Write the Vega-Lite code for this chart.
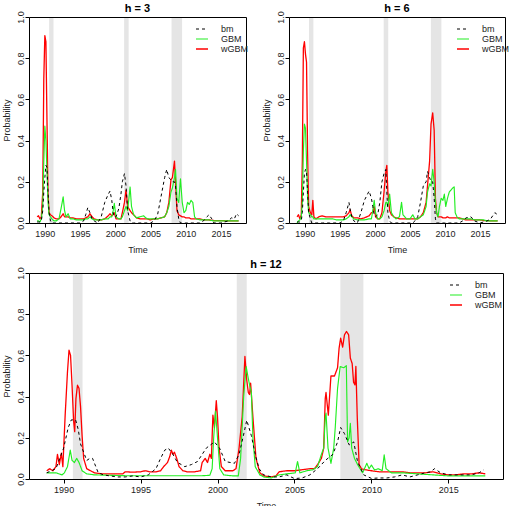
{
"$schema": "https://vega.github.io/schema/vega-lite/v6.json",
"padding": {"left": 1, "top": 2, "right": 0, "bottom": 0},
"config": {
  "font": "Liberation Sans",
  "view": {"stroke": "black", "strokeWidth": 1},
  "axis": {"grid": false, "domain": false, "tickColor": "black", "tickSize": 4, "labelFontSize": 9, "labelColor": "#222", "titleFontSize": 9, "titleFontWeight": "normal", "titleColor": "#222", "labelPadding": 2},
  "title": {"fontSize": 11, "fontWeight": "bold", "offset": -3, "color": "#000", "frame": "group"},
  "legend": {"orient": "none", "symbolType": "stroke", "labelFontSize": 9, "labelColor": "#222", "symbolSize": 144, "clipHeight": 10, "rowPadding": -0.5, "labelOffset": 12, "padding": 0, "titlePadding": 0}
},
"datasets": {
  "rec": [{"s": 1990.6, "e": 1991.23}, {"s": 2001.25, "e": 2001.9}, {"s": 2007.98, "e": 2009.48}],
  "h3": [
    {"t":1988.9,"bm":0.005,"GBM":0.01,"wGBM":0.03},
    {"t":1989.1,"bm":0.005,"GBM":0.01,"wGBM":0.035},
    {"t":1989.3,"bm":0.005,"GBM":0.005,"wGBM":0.02},
    {"t":1989.5,"bm":0.01,"GBM":0.02,"wGBM":0.03},
    {"t":1989.7,"bm":0.06,"GBM":0.08,"wGBM":0.15},
    {"t":1989.85,"bm":0.15,"GBM":0.3,"wGBM":0.7},
    {"t":1990.0,"bm":0.22,"GBM":0.47,"wGBM":0.91},
    {"t":1990.15,"bm":0.28,"GBM":0.4,"wGBM":0.88},
    {"t":1990.3,"bm":0.27,"GBM":0.25,"wGBM":0.5},
    {"t":1990.45,"bm":0.15,"GBM":0.1,"wGBM":0.15},
    {"t":1990.6,"bm":0.05,"GBM":0.04,"wGBM":0.05},
    {"t":1990.8,"bm":0.01,"GBM":0.03,"wGBM":0.04},
    {"t":1991.0,"bm":0,"GBM":0.02,"wGBM":0.035},
    {"t":1991.3,"bm":0,"GBM":0.01,"wGBM":0.025},
    {"t":1991.6,"bm":0,"GBM":0.01,"wGBM":0.02},
    {"t":1992.0,"bm":0,"GBM":0.02,"wGBM":0.02},
    {"t":1992.3,"bm":0,"GBM":0.07,"wGBM":0.03},
    {"t":1992.6,"bm":0,"GBM":0.127,"wGBM":0.045},
    {"t":1992.8,"bm":0,"GBM":0.06,"wGBM":0.03},
    {"t":1993.0,"bm":0,"GBM":0.03,"wGBM":0.03},
    {"t":1993.3,"bm":0,"GBM":0.045,"wGBM":0.03},
    {"t":1993.6,"bm":0,"GBM":0.02,"wGBM":0.025},
    {"t":1994.0,"bm":0,"GBM":0.02,"wGBM":0.025},
    {"t":1994.5,"bm":0,"GBM":0.015,"wGBM":0.02},
    {"t":1995.0,"bm":0,"GBM":0.015,"wGBM":0.02},
    {"t":1995.5,"bm":0.01,"GBM":0.015,"wGBM":0.02},
    {"t":1995.8,"bm":0.04,"GBM":0.02,"wGBM":0.025},
    {"t":1996.1,"bm":0.075,"GBM":0.02,"wGBM":0.03},
    {"t":1996.4,"bm":0.05,"GBM":0.03,"wGBM":0.045},
    {"t":1996.7,"bm":0.02,"GBM":0.02,"wGBM":0.03},
    {"t":1997.0,"bm":0.01,"GBM":0.015,"wGBM":0.02},
    {"t":1997.5,"bm":0,"GBM":0.015,"wGBM":0.015},
    {"t":1998.0,"bm":0.03,"GBM":0.015,"wGBM":0.015},
    {"t":1998.5,"bm":0.1,"GBM":0.02,"wGBM":0.02},
    {"t":1999.0,"bm":0.14,"GBM":0.02,"wGBM":0.035},
    {"t":1999.25,"bm":0.155,"GBM":0.03,"wGBM":0.045},
    {"t":1999.5,"bm":0.11,"GBM":0.03,"wGBM":0.035},
    {"t":1999.7,"bm":0.05,"GBM":0.06,"wGBM":0.04},
    {"t":1999.86,"bm":0.03,"GBM":0.095,"wGBM":0.05},
    {"t":2000.1,"bm":0.03,"GBM":0.03,"wGBM":0.02},
    {"t":2000.5,"bm":0.07,"GBM":0.02,"wGBM":0.02},
    {"t":2000.8,"bm":0.14,"GBM":0.02,"wGBM":0.02},
    {"t":2001.0,"bm":0.2,"GBM":0.03,"wGBM":0.05},
    {"t":2001.3,"bm":0.24,"GBM":0.06,"wGBM":0.1},
    {"t":2001.52,"bm":0.18,"GBM":0.08,"wGBM":0.16},
    {"t":2001.75,"bm":0.06,"GBM":0.06,"wGBM":0.08},
    {"t":2002.1,"bm":0.01,"GBM":0.175,"wGBM":0.06},
    {"t":2002.3,"bm":0,"GBM":0.08,"wGBM":0.05},
    {"t":2002.6,"bm":0,"GBM":0.04,"wGBM":0.04},
    {"t":2003.0,"bm":0,"GBM":0.025,"wGBM":0.025},
    {"t":2003.5,"bm":0,"GBM":0.03,"wGBM":0.02},
    {"t":2004.0,"bm":0,"GBM":0.035,"wGBM":0.02},
    {"t":2004.5,"bm":0,"GBM":0.02,"wGBM":0.02},
    {"t":2005.0,"bm":0,"GBM":0.02,"wGBM":0.015},
    {"t":2005.5,"bm":0.01,"GBM":0.02,"wGBM":0.02},
    {"t":2006.0,"bm":0.04,"GBM":0.02,"wGBM":0.02},
    {"t":2006.5,"bm":0.13,"GBM":0.025,"wGBM":0.025},
    {"t":2007.0,"bm":0.22,"GBM":0.03,"wGBM":0.03},
    {"t":2007.3,"bm":0.26,"GBM":0.05,"wGBM":0.05},
    {"t":2007.6,"bm":0.22,"GBM":0.08,"wGBM":0.1},
    {"t":2007.9,"bm":0.21,"GBM":0.15,"wGBM":0.21},
    {"t":2008.1,"bm":0.2,"GBM":0.17,"wGBM":0.22},
    {"t":2008.4,"bm":0.2,"GBM":0.22,"wGBM":0.3},
    {"t":2008.55,"bm":0.18,"GBM":0.26,"wGBM":0.2},
    {"t":2008.75,"bm":0.08,"GBM":0.12,"wGBM":0.06},
    {"t":2009.0,"bm":0.02,"GBM":0.1,"wGBM":0.04},
    {"t":2009.25,"bm":0,"GBM":0.215,"wGBM":0.035},
    {"t":2009.5,"bm":0,"GBM":0.1,"wGBM":0.03},
    {"t":2009.75,"bm":0,"GBM":0.05,"wGBM":0.03},
    {"t":2010.0,"bm":0,"GBM":0.06,"wGBM":0.025},
    {"t":2010.25,"bm":0,"GBM":0.1,"wGBM":0.025},
    {"t":2010.5,"bm":0,"GBM":0.09,"wGBM":0.025},
    {"t":2010.75,"bm":0,"GBM":0.11,"wGBM":0.02},
    {"t":2011.0,"bm":0,"GBM":0.1,"wGBM":0.02},
    {"t":2011.25,"bm":0,"GBM":0.03,"wGBM":0.02},
    {"t":2011.5,"bm":0,"GBM":0.02,"wGBM":0.02},
    {"t":2012.0,"bm":0,"GBM":0.015,"wGBM":0.02},
    {"t":2012.5,"bm":0.01,"GBM":0.015,"wGBM":0.015},
    {"t":2013.0,"bm":0.03,"GBM":0.015,"wGBM":0.015},
    {"t":2013.3,"bm":0.04,"GBM":0.015,"wGBM":0.015},
    {"t":2013.7,"bm":0.02,"GBM":0.012,"wGBM":0.013},
    {"t":2014.0,"bm":0,"GBM":0.01,"wGBM":0.012},
    {"t":2015.0,"bm":0,"GBM":0.01,"wGBM":0.012},
    {"t":2016.0,"bm":0.01,"GBM":0.01,"wGBM":0.01},
    {"t":2016.5,"bm":0.025,"GBM":0.01,"wGBM":0.01},
    {"t":2016.9,"bm":0.02,"GBM":0.01,"wGBM":0.01},
    {"t":2017.2,"bm":0.045,"GBM":0.01,"wGBM":0.01},
    {"t":2017.5,"bm":0.035,"GBM":0.01,"wGBM":0.01}
  ],
  "h6": [
    {"t":1988.9,"bm":0.005,"GBM":0.0,"wGBM":0.03},
    {"t":1989.1,"bm":0.005,"GBM":0.01,"wGBM":0.04},
    {"t":1989.3,"bm":0.005,"GBM":0.015,"wGBM":0.02},
    {"t":1989.5,"bm":0.01,"GBM":0.03,"wGBM":0.04},
    {"t":1989.65,"bm":0.05,"GBM":0.1,"wGBM":0.3},
    {"t":1989.8,"bm":0.15,"GBM":0.35,"wGBM":0.85},
    {"t":1989.95,"bm":0.24,"GBM":0.48,"wGBM":0.88},
    {"t":1990.1,"bm":0.26,"GBM":0.46,"wGBM":0.82},
    {"t":1990.25,"bm":0.25,"GBM":0.3,"wGBM":0.78},
    {"t":1990.4,"bm":0.15,"GBM":0.12,"wGBM":0.35},
    {"t":1990.55,"bm":0.05,"GBM":0.05,"wGBM":0.08},
    {"t":1990.8,"bm":0.02,"GBM":0.04,"wGBM":0.05},
    {"t":1991.0,"bm":0,"GBM":0.03,"wGBM":0.04},
    {"t":1991.15,"bm":0,"GBM":0.03,"wGBM":0.11},
    {"t":1991.3,"bm":0,"GBM":0.02,"wGBM":0.03},
    {"t":1991.6,"bm":0,"GBM":0.02,"wGBM":0.02},
    {"t":1992.0,"bm":0,"GBM":0.02,"wGBM":0.03},
    {"t":1992.5,"bm":0,"GBM":0.02,"wGBM":0.035},
    {"t":1993.0,"bm":0,"GBM":0.02,"wGBM":0.03},
    {"t":1993.5,"bm":0,"GBM":0.02,"wGBM":0.03},
    {"t":1994.0,"bm":0,"GBM":0.02,"wGBM":0.03},
    {"t":1994.5,"bm":0,"GBM":0.015,"wGBM":0.03},
    {"t":1995.0,"bm":0,"GBM":0.015,"wGBM":0.03},
    {"t":1995.5,"bm":0.01,"GBM":0.015,"wGBM":0.03},
    {"t":1995.9,"bm":0.05,"GBM":0.02,"wGBM":0.035},
    {"t":1996.3,"bm":0.1,"GBM":0.03,"wGBM":0.05},
    {"t":1996.45,"bm":0.07,"GBM":0.04,"wGBM":0.065},
    {"t":1996.7,"bm":0.03,"GBM":0.03,"wGBM":0.035},
    {"t":1997.0,"bm":0.01,"GBM":0.02,"wGBM":0.025},
    {"t":1997.5,"bm":0,"GBM":0.015,"wGBM":0.025},
    {"t":1998.0,"bm":0.05,"GBM":0.015,"wGBM":0.02},
    {"t":1998.5,"bm":0.11,"GBM":0.015,"wGBM":0.025},
    {"t":1999.17,"bm":0.155,"GBM":0.02,"wGBM":0.035},
    {"t":1999.5,"bm":0.12,"GBM":0.02,"wGBM":0.05},
    {"t":1999.7,"bm":0.08,"GBM":0.06,"wGBM":0.05},
    {"t":1999.9,"bm":0.04,"GBM":0.11,"wGBM":0.08},
    {"t":2000.1,"bm":0.03,"GBM":0.05,"wGBM":0.03},
    {"t":2000.4,"bm":0.04,"GBM":0.02,"wGBM":0.02},
    {"t":2000.7,"bm":0.1,"GBM":0.02,"wGBM":0.02},
    {"t":2001.0,"bm":0.2,"GBM":0.03,"wGBM":0.05},
    {"t":2001.3,"bm":0.24,"GBM":0.06,"wGBM":0.15},
    {"t":2001.56,"bm":0.26,"GBM":0.1,"wGBM":0.25},
    {"t":2001.7,"bm":0.15,"GBM":0.1,"wGBM":0.28},
    {"t":2001.85,"bm":0.05,"GBM":0.08,"wGBM":0.15},
    {"t":2002.1,"bm":0.01,"GBM":0.14,"wGBM":0.06},
    {"t":2002.35,"bm":0,"GBM":0.05,"wGBM":0.04},
    {"t":2002.7,"bm":0,"GBM":0.03,"wGBM":0.03},
    {"t":2003.0,"bm":0,"GBM":0.02,"wGBM":0.025},
    {"t":2003.5,"bm":0,"GBM":0.03,"wGBM":0.02},
    {"t":2003.8,"bm":0,"GBM":0.1,"wGBM":0.02},
    {"t":2004.0,"bm":0,"GBM":0.04,"wGBM":0.02},
    {"t":2004.5,"bm":0,"GBM":0.02,"wGBM":0.02},
    {"t":2005.0,"bm":0,"GBM":0.02,"wGBM":0.02},
    {"t":2005.4,"bm":0,"GBM":0.04,"wGBM":0.02},
    {"t":2005.7,"bm":0.01,"GBM":0.02,"wGBM":0.02},
    {"t":2006.1,"bm":0.03,"GBM":0.02,"wGBM":0.02},
    {"t":2006.5,"bm":0.1,"GBM":0.03,"wGBM":0.03},
    {"t":2006.9,"bm":0.18,"GBM":0.04,"wGBM":0.05},
    {"t":2007.3,"bm":0.2,"GBM":0.08,"wGBM":0.1},
    {"t":2007.5,"bm":0.25,"GBM":0.15,"wGBM":0.18},
    {"t":2007.8,"bm":0.22,"GBM":0.19,"wGBM":0.3},
    {"t":2008.0,"bm":0.2,"GBM":0.18,"wGBM":0.48},
    {"t":2008.24,"bm":0.2,"GBM":0.26,"wGBM":0.535},
    {"t":2008.45,"bm":0.12,"GBM":0.2,"wGBM":0.45},
    {"t":2008.63,"bm":0.02,"GBM":0.1,"wGBM":0.12},
    {"t":2008.8,"bm":0,"GBM":0.05,"wGBM":0.05},
    {"t":2009.0,"bm":0,"GBM":0.03,"wGBM":0.03},
    {"t":2009.2,"bm":0,"GBM":0.08,"wGBM":0.03},
    {"t":2009.45,"bm":0,"GBM":0.12,"wGBM":0.03},
    {"t":2009.7,"bm":0,"GBM":0.11,"wGBM":0.025},
    {"t":2009.9,"bm":0,"GBM":0.14,"wGBM":0.025},
    {"t":2010.1,"bm":0,"GBM":0.08,"wGBM":0.025},
    {"t":2010.35,"bm":0,"GBM":0.12,"wGBM":0.03},
    {"t":2010.6,"bm":0,"GBM":0.15,"wGBM":0.025},
    {"t":2010.85,"bm":0,"GBM":0.16,"wGBM":0.025},
    {"t":2011.1,"bm":0,"GBM":0.17,"wGBM":0.025},
    {"t":2011.3,"bm":0,"GBM":0.175,"wGBM":0.025},
    {"t":2011.45,"bm":0,"GBM":0.05,"wGBM":0.025},
    {"t":2011.7,"bm":0,"GBM":0.03,"wGBM":0.025},
    {"t":2012.0,"bm":0,"GBM":0.02,"wGBM":0.025},
    {"t":2012.5,"bm":0.01,"GBM":0.02,"wGBM":0.02},
    {"t":2013.0,"bm":0.025,"GBM":0.02,"wGBM":0.015},
    {"t":2013.7,"bm":0.03,"GBM":0.02,"wGBM":0.015},
    {"t":2014.2,"bm":0.01,"GBM":0.015,"wGBM":0.015},
    {"t":2015.0,"bm":0,"GBM":0.015,"wGBM":0.015},
    {"t":2015.5,"bm":0.005,"GBM":0.015,"wGBM":0.012},
    {"t":2016.0,"bm":0.01,"GBM":0.01,"wGBM":0.012},
    {"t":2016.5,"bm":0.02,"GBM":0.01,"wGBM":0.01},
    {"t":2017.1,"bm":0.05,"GBM":0.01,"wGBM":0.01},
    {"t":2017.5,"bm":0.04,"GBM":0.01,"wGBM":0.01}
  ],
  "h12": [
    {"t":1988.9,"wGBM":0.04},{"t":1989.1,"wGBM":0.05},{"t":1989.3,"wGBM":0.04},{"t":1989.5,"wGBM":0.06},{"t":1989.6,"wGBM":0.12},{"t":1989.72,"wGBM":0.07},{"t":1989.85,"wGBM":0.125},{"t":1989.95,"wGBM":0.06},{"t":1990.1,"wGBM":0.31},{"t":1990.25,"wGBM":0.52},{"t":1990.35,"wGBM":0.625},{"t":1990.45,"wGBM":0.6},{"t":1990.55,"wGBM":0.45},{"t":1990.65,"wGBM":0.28},{"t":1990.72,"wGBM":0.23},{"t":1990.8,"wGBM":0.39},{"t":1990.9,"wGBM":0.455},{"t":1991.0,"wGBM":0.44},{"t":1991.1,"wGBM":0.35},{"t":1991.2,"wGBM":0.21},{"t":1991.3,"wGBM":0.1},{"t":1991.5,"wGBM":0.05},{"t":1991.75,"wGBM":0.04},{"t":1992.0,"wGBM":0.03},{"t":1992.5,"wGBM":0.025},{"t":1993.0,"wGBM":0.025},{"t":1993.5,"wGBM":0.025},{"t":1993.85,"wGBM":0.025},{"t":1994.0,"wGBM":0.035},{"t":1994.5,"wGBM":0.033},{"t":1995.0,"wGBM":0.035},{"t":1995.3,"wGBM":0.04},{"t":1995.6,"wGBM":0.035},{"t":1996.0,"wGBM":0.035},{"t":1996.3,"wGBM":0.04},{"t":1996.5,"wGBM":0.06},{"t":1996.75,"wGBM":0.08},{"t":1996.9,"wGBM":0.11},{"t":1997.0,"wGBM":0.14},{"t":1997.1,"wGBM":0.12},{"t":1997.2,"wGBM":0.13},{"t":1997.35,"wGBM":0.1},{"t":1997.5,"wGBM":0.06},{"t":1997.75,"wGBM":0.04},{"t":1998.0,"wGBM":0.035},{"t":1998.5,"wGBM":0.035},{"t":1998.9,"wGBM":0.04},{"t":1999.0,"wGBM":0.08},{"t":1999.2,"wGBM":0.1},{"t":1999.35,"wGBM":0.08},{"t":1999.5,"wGBM":0.12},{"t":1999.6,"wGBM":0.1},{"t":1999.7,"wGBM":0.31},{"t":1999.8,"wGBM":0.25},{"t":1999.92,"wGBM":0.38},{"t":2000.0,"wGBM":0.3},{"t":2000.1,"wGBM":0.15},{"t":2000.25,"wGBM":0.06},{"t":2000.5,"wGBM":0.04},{"t":2001.0,"wGBM":0.04},{"t":2001.2,"wGBM":0.05},{"t":2001.4,"wGBM":0.15},{"t":2001.6,"wGBM":0.3},{"t":2001.78,"wGBM":0.595},{"t":2001.9,"wGBM":0.48},{"t":2002.0,"wGBM":0.42},{"t":2002.08,"wGBM":0.41},{"t":2002.15,"wGBM":0.465},{"t":2002.3,"wGBM":0.3},{"t":2002.5,"wGBM":0.1},{"t":2002.75,"wGBM":0.03},{"t":2003.0,"wGBM":0.015},{"t":2003.5,"wGBM":0.01},{"t":2003.8,"wGBM":0.015},{"t":2004.0,"wGBM":0.035},{"t":2004.5,"wGBM":0.04},{"t":2005.0,"wGBM":0.04},{"t":2005.5,"wGBM":0.045},{"t":2006.0,"wGBM":0.05},{"t":2006.3,"wGBM":0.05},{"t":2006.5,"wGBM":0.07},{"t":2006.75,"wGBM":0.1},{"t":2006.9,"wGBM":0.15},{"t":2007.0,"wGBM":0.39},{"t":2007.05,"wGBM":0.42},{"t":2007.2,"wGBM":0.31},{"t":2007.37,"wGBM":0.5},{"t":2007.6,"wGBM":0.5},{"t":2007.8,"wGBM":0.54},{"t":2007.9,"wGBM":0.635},{"t":2008.0,"wGBM":0.684},{"t":2008.13,"wGBM":0.64},{"t":2008.25,"wGBM":0.7},{"t":2008.38,"wGBM":0.716},{"t":2008.52,"wGBM":0.7},{"t":2008.63,"wGBM":0.587},{"t":2008.75,"wGBM":0.56},{"t":2008.84,"wGBM":0.47},{"t":2008.93,"wGBM":0.457},{"t":2008.99,"wGBM":0.546},{"t":2009.08,"wGBM":0.3},{"t":2009.2,"wGBM":0.07},{"t":2009.35,"wGBM":0.05},{"t":2009.6,"wGBM":0.045},{"t":2010.0,"wGBM":0.04},{"t":2010.5,"wGBM":0.035},{"t":2011.0,"wGBM":0.035},{"t":2011.5,"wGBM":0.035},{"t":2012.0,"wGBM":0.035},{"t":2012.5,"wGBM":0.03},{"t":2013.0,"wGBM":0.03},{"t":2013.5,"wGBM":0.03},{"t":2014.0,"wGBM":0.035},{"t":2014.5,"wGBM":0.025},{"t":2015.0,"wGBM":0.02},{"t":2015.5,"wGBM":0.02},{"t":2016.0,"wGBM":0.025},{"t":2016.5,"wGBM":0.025},{"t":2017.0,"wGBM":0.03},{"t":2017.4,"wGBM":0.025},
    {"t":1988.9,"GBM":0.03},{"t":1989.5,"GBM":0.03},{"t":1989.9,"GBM":0.02},{"t":1990.05,"GBM":0.03},{"t":1990.25,"GBM":0.06},{"t":1990.43,"GBM":0.14},{"t":1990.55,"GBM":0.09},{"t":1990.7,"GBM":0.08},{"t":1990.85,"GBM":0.1},{"t":1991.0,"GBM":0.08},{"t":1991.2,"GBM":0.04},{"t":1991.5,"GBM":0.025},{"t":1992.0,"GBM":0.02},{"t":1993.0,"GBM":0.018},{"t":1994.0,"GBM":0.016},{"t":1995.0,"GBM":0.016},{"t":1996.0,"GBM":0.016},{"t":1997.0,"GBM":0.016},{"t":1998.0,"GBM":0.016},{"t":1999.0,"GBM":0.016},{"t":1999.5,"GBM":0.018},{"t":1999.65,"GBM":0.05},{"t":1999.75,"GBM":0.2},{"t":1999.87,"GBM":0.33},{"t":2000.0,"GBM":0.2},{"t":2000.15,"GBM":0.05},{"t":2000.4,"GBM":0.02},{"t":2001.0,"GBM":0.015},{"t":2001.35,"GBM":0.015},{"t":2001.5,"GBM":0.1},{"t":2001.7,"GBM":0.4},{"t":2001.86,"GBM":0.546},{"t":2001.97,"GBM":0.5},{"t":2002.1,"GBM":0.45},{"t":2002.2,"GBM":0.42},{"t":2002.3,"GBM":0.2},{"t":2002.45,"GBM":0.06},{"t":2002.75,"GBM":0.02},{"t":2003.0,"GBM":0.01},{"t":2003.5,"GBM":0.005},{"t":2004.0,"GBM":0.02},{"t":2004.5,"GBM":0.025},{"t":2005.05,"GBM":0.03},{"t":2005.2,"GBM":0.085},{"t":2005.35,"GBM":0.03},{"t":2005.8,"GBM":0.04},{"t":2006.2,"GBM":0.045},{"t":2006.5,"GBM":0.06},{"t":2006.75,"GBM":0.12},{"t":2006.9,"GBM":0.15},{"t":2007.0,"GBM":0.3},{"t":2007.05,"GBM":0.32},{"t":2007.18,"GBM":0.15},{"t":2007.37,"GBM":0.076},{"t":2007.55,"GBM":0.15},{"t":2007.65,"GBM":0.25},{"t":2007.8,"GBM":0.44},{"t":2007.97,"GBM":0.546},{"t":2008.2,"GBM":0.54},{"t":2008.37,"GBM":0.55},{"t":2008.45,"GBM":0.18},{"t":2008.55,"GBM":0.2},{"t":2008.63,"GBM":0.27},{"t":2008.72,"GBM":0.15},{"t":2008.9,"GBM":0.1},{"t":2009.1,"GBM":0.07},{"t":2009.43,"GBM":0.03},{"t":2009.7,"GBM":0.076},{"t":2009.85,"GBM":0.05},{"t":2010.0,"GBM":0.068},{"t":2010.2,"GBM":0.044},{"t":2010.45,"GBM":0.05},{"t":2010.7,"GBM":0.04},{"t":2010.83,"GBM":0.117},{"t":2010.95,"GBM":0.05},{"t":2011.3,"GBM":0.03},{"t":2012.0,"GBM":0.03},{"t":2013.0,"GBM":0.025},{"t":2014.0,"GBM":0.02},{"t":2015.0,"GBM":0.015},{"t":2016.0,"GBM":0.015},{"t":2017.4,"GBM":0.015},
    {"t":1988.9,"bm":0.03},{"t":1989.5,"bm":0.05},{"t":1990.0,"bm":0.15},{"t":1990.3,"bm":0.25},{"t":1990.5,"bm":0.287},{"t":1990.78,"bm":0.287},{"t":1990.95,"bm":0.24},{"t":1991.1,"bm":0.17},{"t":1991.3,"bm":0.13},{"t":1991.5,"bm":0.09},{"t":1991.7,"bm":0.1},{"t":1991.88,"bm":0.1},{"t":1992.25,"bm":0.03},{"t":1992.6,"bm":0.02},{"t":1993.0,"bm":0.015},{"t":1993.5,"bm":0.01},{"t":1994.0,"bm":0.01},{"t":1994.5,"bm":0.015},{"t":1995.0,"bm":0.01},{"t":1995.5,"bm":0.02},{"t":1996.0,"bm":0.05},{"t":1996.3,"bm":0.1},{"t":1996.57,"bm":0.14},{"t":1996.8,"bm":0.15},{"t":1997.1,"bm":0.12},{"t":1997.4,"bm":0.08},{"t":1997.65,"bm":0.07},{"t":1997.87,"bm":0.06},{"t":1998.3,"bm":0.07},{"t":1998.7,"bm":0.085},{"t":1999.27,"bm":0.15},{"t":1999.8,"bm":0.18},{"t":2000.13,"bm":0.15},{"t":2000.5,"bm":0.085},{"t":2001.1,"bm":0.076},{"t":2001.4,"bm":0.12},{"t":2001.65,"bm":0.2},{"t":2001.9,"bm":0.285},{"t":2002.2,"bm":0.21},{"t":2002.45,"bm":0.12},{"t":2002.7,"bm":0.05},{"t":2003.0,"bm":0.02},{"t":2003.5,"bm":0.01},{"t":2004.0,"bm":0.01},{"t":2004.5,"bm":0.02},{"t":2005.0,"bm":0.002},{"t":2005.5,"bm":0.005},{"t":2006.0,"bm":0.02},{"t":2006.5,"bm":0.05},{"t":2007.0,"bm":0.09},{"t":2007.5,"bm":0.12},{"t":2007.8,"bm":0.18},{"t":2008.0,"bm":0.25},{"t":2008.25,"bm":0.22},{"t":2008.56,"bm":0.165},{"t":2008.85,"bm":0.18},{"t":2009.1,"bm":0.084},{"t":2009.5,"bm":0.02},{"t":2010.0,"bm":0.003},{"t":2010.5,"bm":0.005},{"t":2011.0,"bm":0.005},{"t":2011.5,"bm":0.01},{"t":2012.0,"bm":0.02},{"t":2012.5,"bm":0.01},{"t":2013.0,"bm":0.02},{"t":2013.5,"bm":0.03},{"t":2013.85,"bm":0.035},{"t":2014.1,"bm":0.05},{"t":2014.5,"bm":0.03},{"t":2015.0,"bm":0.02},{"t":2015.5,"bm":0.02},{"t":2016.0,"bm":0.02},{"t":2016.5,"bm":0.02},{"t":2017.0,"bm":0.03},{"t":2017.3,"bm":0.045}
  ]
},
"resolve": {"scale": {"color": "independent", "strokeDash": "independent", "strokeWidth": "independent"}, "legend": {"color": "independent", "strokeDash": "independent", "strokeWidth": "independent"}},
"spacing": 3,
"vconcat": [
  {
    "spacing": 12,
    "resolve": {"scale": {"color": "independent", "strokeDash": "independent", "strokeWidth": "independent"}, "legend": {"color": "independent", "strokeDash": "independent", "strokeWidth": "independent"}},
    "hconcat": [
      {
        "title": "h = 3", "width": 217, "height": 206,
        "layer": [
          {"data": {"name": "rec"}, "mark": {"type": "rect", "color": "#000000", "opacity": 0.1},
           "encoding": {"x": {"field": "s", "type": "quantitative", "scale": {"domain": [1987.75, 2018.55], "nice": false, "zero": false}, "axis": {"title": "Time", "values": [1990,1995,2000,2005,2010,2015], "format": "d", "labelFlush": false, "titlePadding": 7}}, "x2": {"field": "e"}}},
          {"data": {"name": "h3"},
           "transform": [{"fold": ["bm","GBM","wGBM"], "as": ["m","p"]}, {"filter": "isValid(datum.p)"}],
           "encoding": {
             "x": {"field": "t", "type": "quantitative", "axis": {"title": "Time", "values": [1990,1995,2000,2005,2010,2015], "format": "d", "labelFlush": false, "titlePadding": 7}},
             "y": {"field": "p", "type": "quantitative", "scale": {"domain": [0,1], "nice": false}, "axis": {"title": "Probability", "values": [0,0.2,0.4,0.6,0.8,1], "format": ".1f", "labelAngle": 270, "labelAlign": "center", "labelBaseline": "alphabetic", "titlePadding": 5}},
             "color": {"field": "m", "type": "nominal", "scale": {"domain": ["bm","GBM","wGBM"], "range": ["#000000","#22ee22","#ff0000"]}, "legend": {"title": null, "legendX": 166, "legendY": 7}},
             "strokeDash": {"field": "m", "type": "nominal", "scale": {"domain": ["bm","GBM","wGBM"], "range": [[3,3],[1,0],[1,0]]}, "legend": {"title": null, "legendX": 166, "legendY": 7}},
             "strokeWidth": {"field": "m", "type": "nominal", "scale": {"domain": ["bm","GBM","wGBM"], "range": [1,1.3,2.2]}, "legend": {"title": null, "legendX": 166, "legendY": 7}}
           },
           "layer": [
             {"transform": [{"filter": "datum.m == 'wGBM'"}], "mark": {"type": "line", "strokeJoin": "round"}},
             {"transform": [{"filter": "datum.m == 'GBM'"}], "mark": {"type": "line", "strokeJoin": "round"}},
             {"transform": [{"filter": "datum.m == 'bm'"}], "mark": {"type": "line"}}
           ]}
        ]
      },
      {
        "title": "h = 6", "width": 216, "height": 206,
        "layer": [
          {"data": {"name": "rec"}, "mark": {"type": "rect", "color": "#000000", "opacity": 0.1},
           "encoding": {"x": {"field": "s", "type": "quantitative", "scale": {"domain": [1987.75, 2018.55], "nice": false, "zero": false}, "axis": {"title": "Time", "values": [1990,1995,2000,2005,2010,2015], "format": "d", "labelFlush": false, "titlePadding": 7}}, "x2": {"field": "e"}}},
          {"data": {"name": "h6"},
           "transform": [{"fold": ["bm","GBM","wGBM"], "as": ["m","p"]}, {"filter": "isValid(datum.p)"}],
           "encoding": {
             "x": {"field": "t", "type": "quantitative", "axis": {"title": "Time", "values": [1990,1995,2000,2005,2010,2015], "format": "d", "labelFlush": false, "titlePadding": 7}},
             "y": {"field": "p", "type": "quantitative", "scale": {"domain": [0,1], "nice": false}, "axis": {"title": "Probability", "values": [0,0.2,0.4,0.6,0.8,1], "format": ".1f", "labelAngle": 270, "labelAlign": "center", "labelBaseline": "alphabetic", "titlePadding": 5}},
             "color": {"field": "m", "type": "nominal", "scale": {"domain": ["bm","GBM","wGBM"], "range": ["#000000","#22ee22","#ff0000"]}, "legend": {"title": null, "legendX": 167, "legendY": 7}},
             "strokeDash": {"field": "m", "type": "nominal", "scale": {"domain": ["bm","GBM","wGBM"], "range": [[3,3],[1,0],[1,0]]}, "legend": {"title": null, "legendX": 167, "legendY": 7}},
             "strokeWidth": {"field": "m", "type": "nominal", "scale": {"domain": ["bm","GBM","wGBM"], "range": [1,1.3,2.2]}, "legend": {"title": null, "legendX": 167, "legendY": 7}}
           },
           "layer": [
             {"transform": [{"filter": "datum.m == 'wGBM'"}], "mark": {"type": "line", "strokeJoin": "round"}},
             {"transform": [{"filter": "datum.m == 'GBM'"}], "mark": {"type": "line", "strokeJoin": "round"}},
             {"transform": [{"filter": "datum.m == 'bm'"}], "mark": {"type": "line"}}
           ]}
        ]
      }
    ]
  },
  {
    "title": "h = 12", "width": 474, "height": 206,
    "layer": [
      {"data": {"name": "rec"}, "mark": {"type": "rect", "color": "#000000", "opacity": 0.1},
       "encoding": {"x": {"field": "s", "type": "quantitative", "scale": {"domain": [1987.75, 2018.55], "nice": false, "zero": false}, "axis": {"title": "Time", "values": [1990,1995,2000,2005,2010,2015], "format": "d", "labelFlush": false, "titlePadding": 7}}, "x2": {"field": "e"}}},
      {"data": {"name": "h12"},
       "transform": [{"fold": ["bm","GBM","wGBM"], "as": ["m","p"]}, {"filter": "isValid(datum.p)"}],
       "encoding": {
         "x": {"field": "t", "type": "quantitative", "axis": {"title": "Time", "values": [1990,1995,2000,2005,2010,2015], "format": "d", "labelFlush": false, "titlePadding": 7}},
         "y": {"field": "p", "type": "quantitative", "scale": {"domain": [0,1], "nice": false}, "axis": {"title": "Probability", "values": [0,0.2,0.4,0.6,0.8,1], "format": ".1f", "labelAngle": 270, "labelAlign": "center", "labelBaseline": "alphabetic", "titlePadding": 5}},
         "color": {"field": "m", "type": "nominal", "scale": {"domain": ["bm","GBM","wGBM"], "range": ["#000000","#22ee22","#ff0000"]}, "legend": {"title": null, "legendX": 420, "legendY": 7}},
         "strokeDash": {"field": "m", "type": "nominal", "scale": {"domain": ["bm","GBM","wGBM"], "range": [[3,3],[1,0],[1,0]]}, "legend": {"title": null, "legendX": 420, "legendY": 7}},
         "strokeWidth": {"field": "m", "type": "nominal", "scale": {"domain": ["bm","GBM","wGBM"], "range": [1,1.3,2.2]}, "legend": {"title": null, "legendX": 420, "legendY": 7}}
       },
       "layer": [
         {"transform": [{"filter": "datum.m == 'wGBM'"}], "mark": {"type": "line", "strokeJoin": "round"}},
         {"transform": [{"filter": "datum.m == 'GBM'"}], "mark": {"type": "line", "strokeJoin": "round"}},
         {"transform": [{"filter": "datum.m == 'bm'"}], "mark": {"type": "line"}}
       ]}
    ]
  }
]
}
